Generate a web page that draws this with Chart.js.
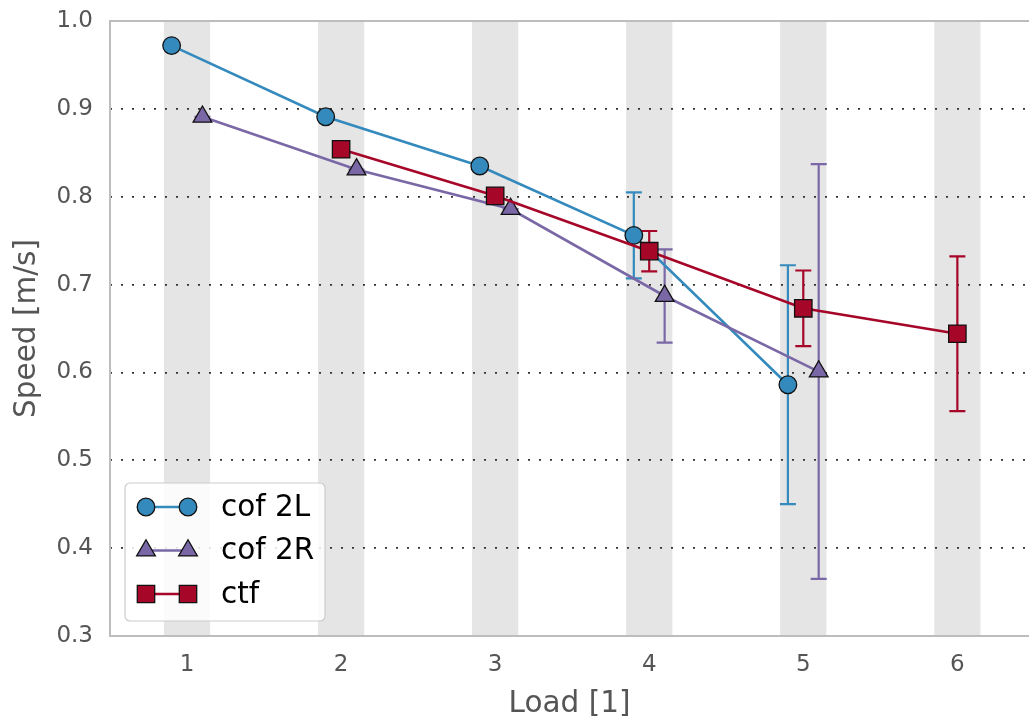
<!DOCTYPE html>
<html>
<head>
<meta charset="utf-8">
<script src="https://cdn.jsdelivr.net/npm/chart.js@4.4.0/dist/chart.umd.min.js"></script>
<style>
  html, body { margin: 0; padding: 0; background: #fff; }
  #wrap { width: 1029px; height: 723px; }
</style>
</head>
<body>
<div id="wrap"><canvas id="chart" width="1029" height="723"></canvas></div>
<script>
// load levels and speed axis ticks
const loads = [1, 2, 3, 4, 5, 6];
const speedTicks = [0.3, 0.4, 0.5, 0.6, 0.7, 0.8, 0.9, 1.0];

// cof 2L
const cof2LLoads = [1, 2, 3, 4, 5];
const cof2LSpeed = [0.972, 0.891, 0.835, 0.756, 0.586];
const cof2LErr = [0, 0, 0, 0.049, 0.136];

// cof 2R
const cof2RLoads = [1, 2, 3, 4, 5];
const cof2RSpeed = [0.891, 0.831, 0.786, 0.687, 0.601];
const cof2RErr = [0, 0, 0, 0.053, 0.236];

// ctf
const ctfLoads = [2, 3, 4, 5, 6];
const ctfSpeed = [0.854, 0.801, 0.738, 0.673, 0.644];
const ctfErr = [0, 0, 0.023, 0.043, 0.088];

const DODGE = 0.1;
const BAND_HALF = 0.15;
const FONT = "'DejaVu Sans', sans-serif";
const SPINE = '#bdbdbd';

const toPoints = (xs, ys, shift) => xs.map((x, i) => ({ x: x + shift, y: ys[i] }));

const drawMarker = (ctx, style, x, y, r, fill) => {
  ctx.save();
  ctx.fillStyle = fill;
  ctx.strokeStyle = '#111';
  ctx.lineWidth = 1.3;
  ctx.beginPath();
  if (style === 'circle') {
    ctx.arc(x, y, r, 0, Math.PI * 2);
  } else if (style === 'triangle') {
    ctx.moveTo(x, y - r);
    ctx.lineTo(x + r * Math.sqrt(3) / 2, y + r / 2);
    ctx.lineTo(x - r * Math.sqrt(3) / 2, y + r / 2);
    ctx.closePath();
  } else {
    const h = r * Math.SQRT1_2;
    ctx.rect(x - h, y - h, h * 2, h * 2);
  }
  ctx.fill();
  ctx.stroke();
  ctx.restore();
};

// grey bands behind each load level, drawn before the grid
const bandsPlugin = {
  id: 'bands',
  beforeDraw(chart) {
    const { ctx, chartArea, scales } = chart;
    ctx.save();
    ctx.fillStyle = '#e5e5e5';
    loads.forEach((l) => {
      const x0 = scales.x.getPixelForValue(l - BAND_HALF);
      const x1 = scales.x.getPixelForValue(l + BAND_HALF);
      ctx.fillRect(x0, chartArea.top, x1 - x0, chartArea.bottom - chartArea.top);
    });
    ctx.restore();
  },
};

// axes frame and error bars
const errorBarsPlugin = {
  id: 'errorBars',
  beforeDatasetsDraw(chart) {
    const { ctx, chartArea, scales } = chart;
    ctx.save();
    ctx.strokeStyle = SPINE;
    ctx.lineWidth = 2;
    ctx.beginPath();
    ctx.moveTo(chartArea.right + 2, chartArea.top);
    ctx.lineTo(chartArea.left, chartArea.top);
    ctx.lineTo(chartArea.left, chartArea.bottom);
    ctx.lineTo(chartArea.right + 2, chartArea.bottom);
    ctx.stroke();

    chart.data.datasets.forEach((ds) => {
      ctx.strokeStyle = ds.borderColor;
      ctx.lineWidth = 2.2;
      ds.data.forEach((p, i) => {
        const e = ds.errors[i];
        const x = scales.x.getPixelForValue(p.x);
        const yTop = scales.y.getPixelForValue(p.y + e);
        const yBot = scales.y.getPixelForValue(p.y - e);
        ctx.beginPath();
        ctx.moveTo(x, yTop);
        ctx.lineTo(x, yBot);
        ctx.moveTo(x - 8, yTop);
        ctx.lineTo(x + 8, yTop);
        ctx.moveTo(x - 8, yBot);
        ctx.lineTo(x + 8, yBot);
        ctx.stroke();
      });
    });
    ctx.restore();
  },
};

// legend box in the lower left corner of the plot
const legendPlugin = {
  id: 'boxLegend',
  afterDraw(chart) {
    const { ctx } = chart;
    const x = 125, y = 483, w = 200, h = 138, r = 5;
    ctx.save();
    ctx.beginPath();
    ctx.moveTo(x + r, y);
    ctx.arcTo(x + w, y, x + w, y + h, r);
    ctx.arcTo(x + w, y + h, x, y + h, r);
    ctx.arcTo(x, y + h, x, y, r);
    ctx.arcTo(x, y, x + w, y, r);
    ctx.closePath();
    ctx.fillStyle = 'rgba(255,255,255,0.85)';
    ctx.fill();
    ctx.strokeStyle = '#cccccc';
    ctx.lineWidth = 1.2;
    ctx.stroke();

    ctx.font = `29.5px ${FONT}`;
    ctx.textBaseline = 'middle';
    chart.data.datasets.forEach((ds, i) => {
      const rowY = 507 + i * 43.5;
      ctx.strokeStyle = ds.borderColor;
      ctx.lineWidth = 2.4;
      ctx.beginPath();
      ctx.moveTo(146, rowY);
      ctx.lineTo(188, rowY);
      ctx.stroke();
      drawMarker(ctx, ds.pointStyle, 146, rowY, ds.pointRadius, ds.borderColor);
      drawMarker(ctx, ds.pointStyle, 188, rowY, ds.pointRadius, ds.borderColor);
      ctx.fillStyle = '#000';
      ctx.fillText(ds.label, 221, rowY + 1);
    });
    ctx.restore();
  },
};

const makeSeries = (label, color, style, radius, points, errors, order) => ({
  label,
  data: points,
  errors,
  borderColor: color,
  backgroundColor: color,
  pointBackgroundColor: color,
  pointBorderColor: '#111',
  pointBorderWidth: 1.3,
  pointStyle: style,
  pointRadius: radius,
  pointHoverRadius: radius,
  borderWidth: 2.6,
  tension: 0,
  clip: false,
  order,
});

const tickFont = { family: FONT, size: 23 };
const titleFont = { family: FONT, size: 29.5 };

new Chart(document.getElementById('chart'), {
  type: 'line',
  data: {
    datasets: [
      makeSeries('cof 2L', '#348ABD', 'circle', 8.8, toPoints(cof2LLoads, cof2LSpeed, -DODGE), cof2LErr, 3),
      makeSeries('cof 2R', '#7A68A6', 'triangle', 10.8, toPoints(cof2RLoads, cof2RSpeed, DODGE), cof2RErr, 2),
      makeSeries('ctf', '#A60628', 'rect', 12.3, toPoints(ctfLoads, ctfSpeed, 0), ctfErr, 1),
    ],
  },
  options: {
    responsive: false,
    animation: false,
    events: [],
    layout: { autoPadding: false, padding: { top: 21, right: 0, left: 0, bottom: 0 } },
    plugins: {
      legend: { display: false },
      tooltip: { enabled: false },
    },
    scales: {
      x: {
        type: 'linear',
        min: 0.5,
        max: 6.465,
        afterBuildTicks: (scale) => { scale.ticks = loads.map((v) => ({ value: v })); },
        afterFit: (scale) => {
          scale.height = 87;
          scale.paddingLeft = 0;
          scale.paddingRight = 0;
        },
        grid: { display: false, drawTicks: false },
        border: { display: false },
        ticks: { color: '#555555', font: tickFont, padding: 15, maxRotation: 0 },
        title: { display: true, text: 'Load [1]', color: '#555555', font: titleFont, padding: { top: 0, bottom: 1 } },
      },
      y: {
        min: 0.3,
        max: 1.0,
        afterBuildTicks: (scale) => { scale.ticks = speedTicks.map((v) => ({ value: v })); },
        afterFit: (scale) => {
          scale.width = 110;
          scale.paddingTop = 0;
          scale.paddingBottom = 0;
        },
        grid: { color: '#333333', lineWidth: 1.8, drawTicks: false },
        border: { display: false, dash: [2, 9] },
        ticks: { color: '#555555', font: tickFont, padding: 17, callback: (v) => v.toFixed(1) },
        title: { display: true, text: 'Speed [m/s]', color: '#555555', font: titleFont, padding: { top: 10, bottom: 0 } },
      },
    },
  },
  plugins: [bandsPlugin, errorBarsPlugin, legendPlugin],
});
</script>
</body>
</html>
